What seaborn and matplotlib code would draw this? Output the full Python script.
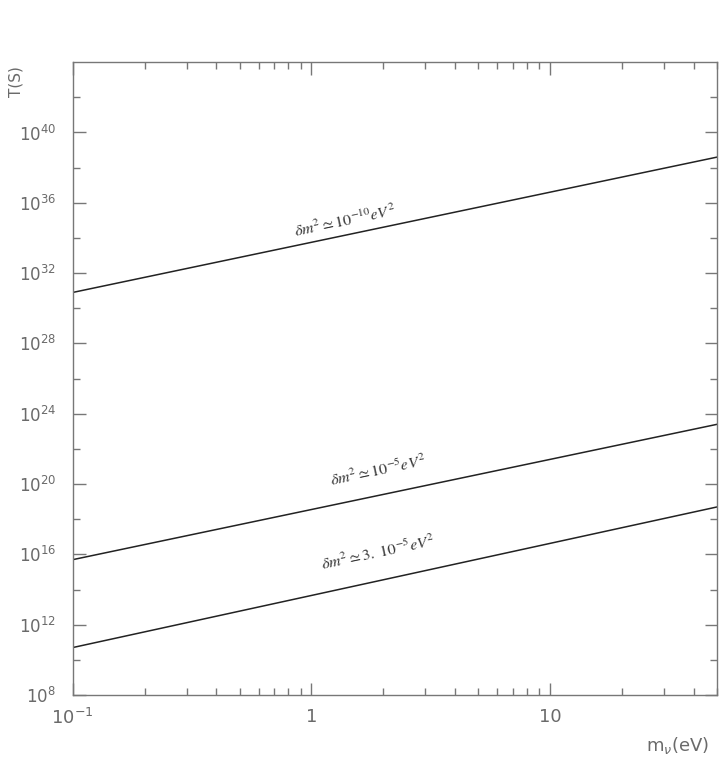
import numpy as np
import pandas as pd
import matplotlib
matplotlib.use("Agg")
import matplotlib.pyplot as plt
import seaborn as sns
from matplotlib.ticker import LogLocator, FixedLocator, FixedFormatter, NullFormatter

# neutrino mass range (eV) and log10 of T(s) at the two ends
m_nu = [0.1, 50]
logT_1e10 = [30.9, 38.6]
logT_1e5 = [15.7, 23.4]
logT_3e5 = [10.7, 18.7]

labels = [r"$\delta m^2 \simeq 10^{-10} eV^2$",
          r"$\delta m^2 \simeq 10^{-5} eV^2$",
          r"$\delta m^2 \simeq 3.\ 10^{-5} eV^2$"]
label_pos = [(1.38, 10**35.0), (1.9, 10**20.8), (1.9, 10**16.1)]

ytick_exp = [8, 12, 16, 20, 24, 28, 32, 36, 40]

rows = []
for lab, vals in zip(labels, [logT_1e10, logT_1e5, logT_3e5]):
    for m, v in zip(m_nu, vals):
        rows.append({"m": m, "T": 10**v, "case": lab})
df = pd.DataFrame(rows)

sns.set_style("ticks")
plt.rcParams['font.family'] = ['DejaVu Sans']

fig = plt.figure(figsize=(7.2, 7.77), dpi=100)
ax = fig.add_axes([0.101, 0.1055, 0.895, 0.8145])

sns.lineplot(data=df, x="m", y="T", units="case", estimator=None,
             color="#222222", lw=1.1, ax=ax)

ax.set_xscale("log")
ax.set_yscale("log")
ax.set_xlim(0.1, 50)
ax.set_ylim(1e8, 1e44)

gray = "#6a6a6a"
for s in ax.spines.values():
    s.set_color("#777777")
    s.set_linewidth(1.0)

ax.xaxis.set_major_locator(FixedLocator([0.1, 1, 10]))
ax.xaxis.set_major_formatter(FixedFormatter([r"$10^{-1}$", "1", "10"]))
ax.xaxis.set_minor_locator(LogLocator(base=10, subs=np.arange(2, 10), numticks=20))
ax.xaxis.set_minor_formatter(NullFormatter())

ax.yaxis.set_major_locator(FixedLocator([10.0**e for e in ytick_exp]))
ax.yaxis.set_major_formatter(FixedFormatter([r"$10^{%d}$" % e for e in ytick_exp]))
ax.yaxis.set_minor_locator(FixedLocator([10.0**e for e in range(10, 44, 4)]))
ax.yaxis.set_minor_formatter(NullFormatter())

ax.tick_params(which="both", direction="in", top=True, right=True, colors="#777777",
               labelcolor=gray, labelsize=12)
ax.tick_params(which="major", length=9, width=1)
ax.tick_params(which="minor", length=5, width=1)
ax.tick_params(axis="y", pad=12)
ax.tick_params(axis="x", pad=9, labelsize=13)

ax.set_xlabel("")
ax.set_ylabel("")
fig.text(0.985, 0.04, r"m$_\nu$(eV)", ha="right", va="center", fontsize=13, color=gray)
fig.text(0.012, 0.895, "T(S)", ha="left", va="center", rotation=90, fontsize=11, color=gray)

for lab, (x, y) in zip(labels, label_pos):
    ax.text(x, y, lab, rotation=12, ha="center", va="center", rotation_mode="anchor",
            fontsize=11.5, color="#333333", math_fontfamily="stix")

fig.savefig("out.png", dpi=100, facecolor="white")
